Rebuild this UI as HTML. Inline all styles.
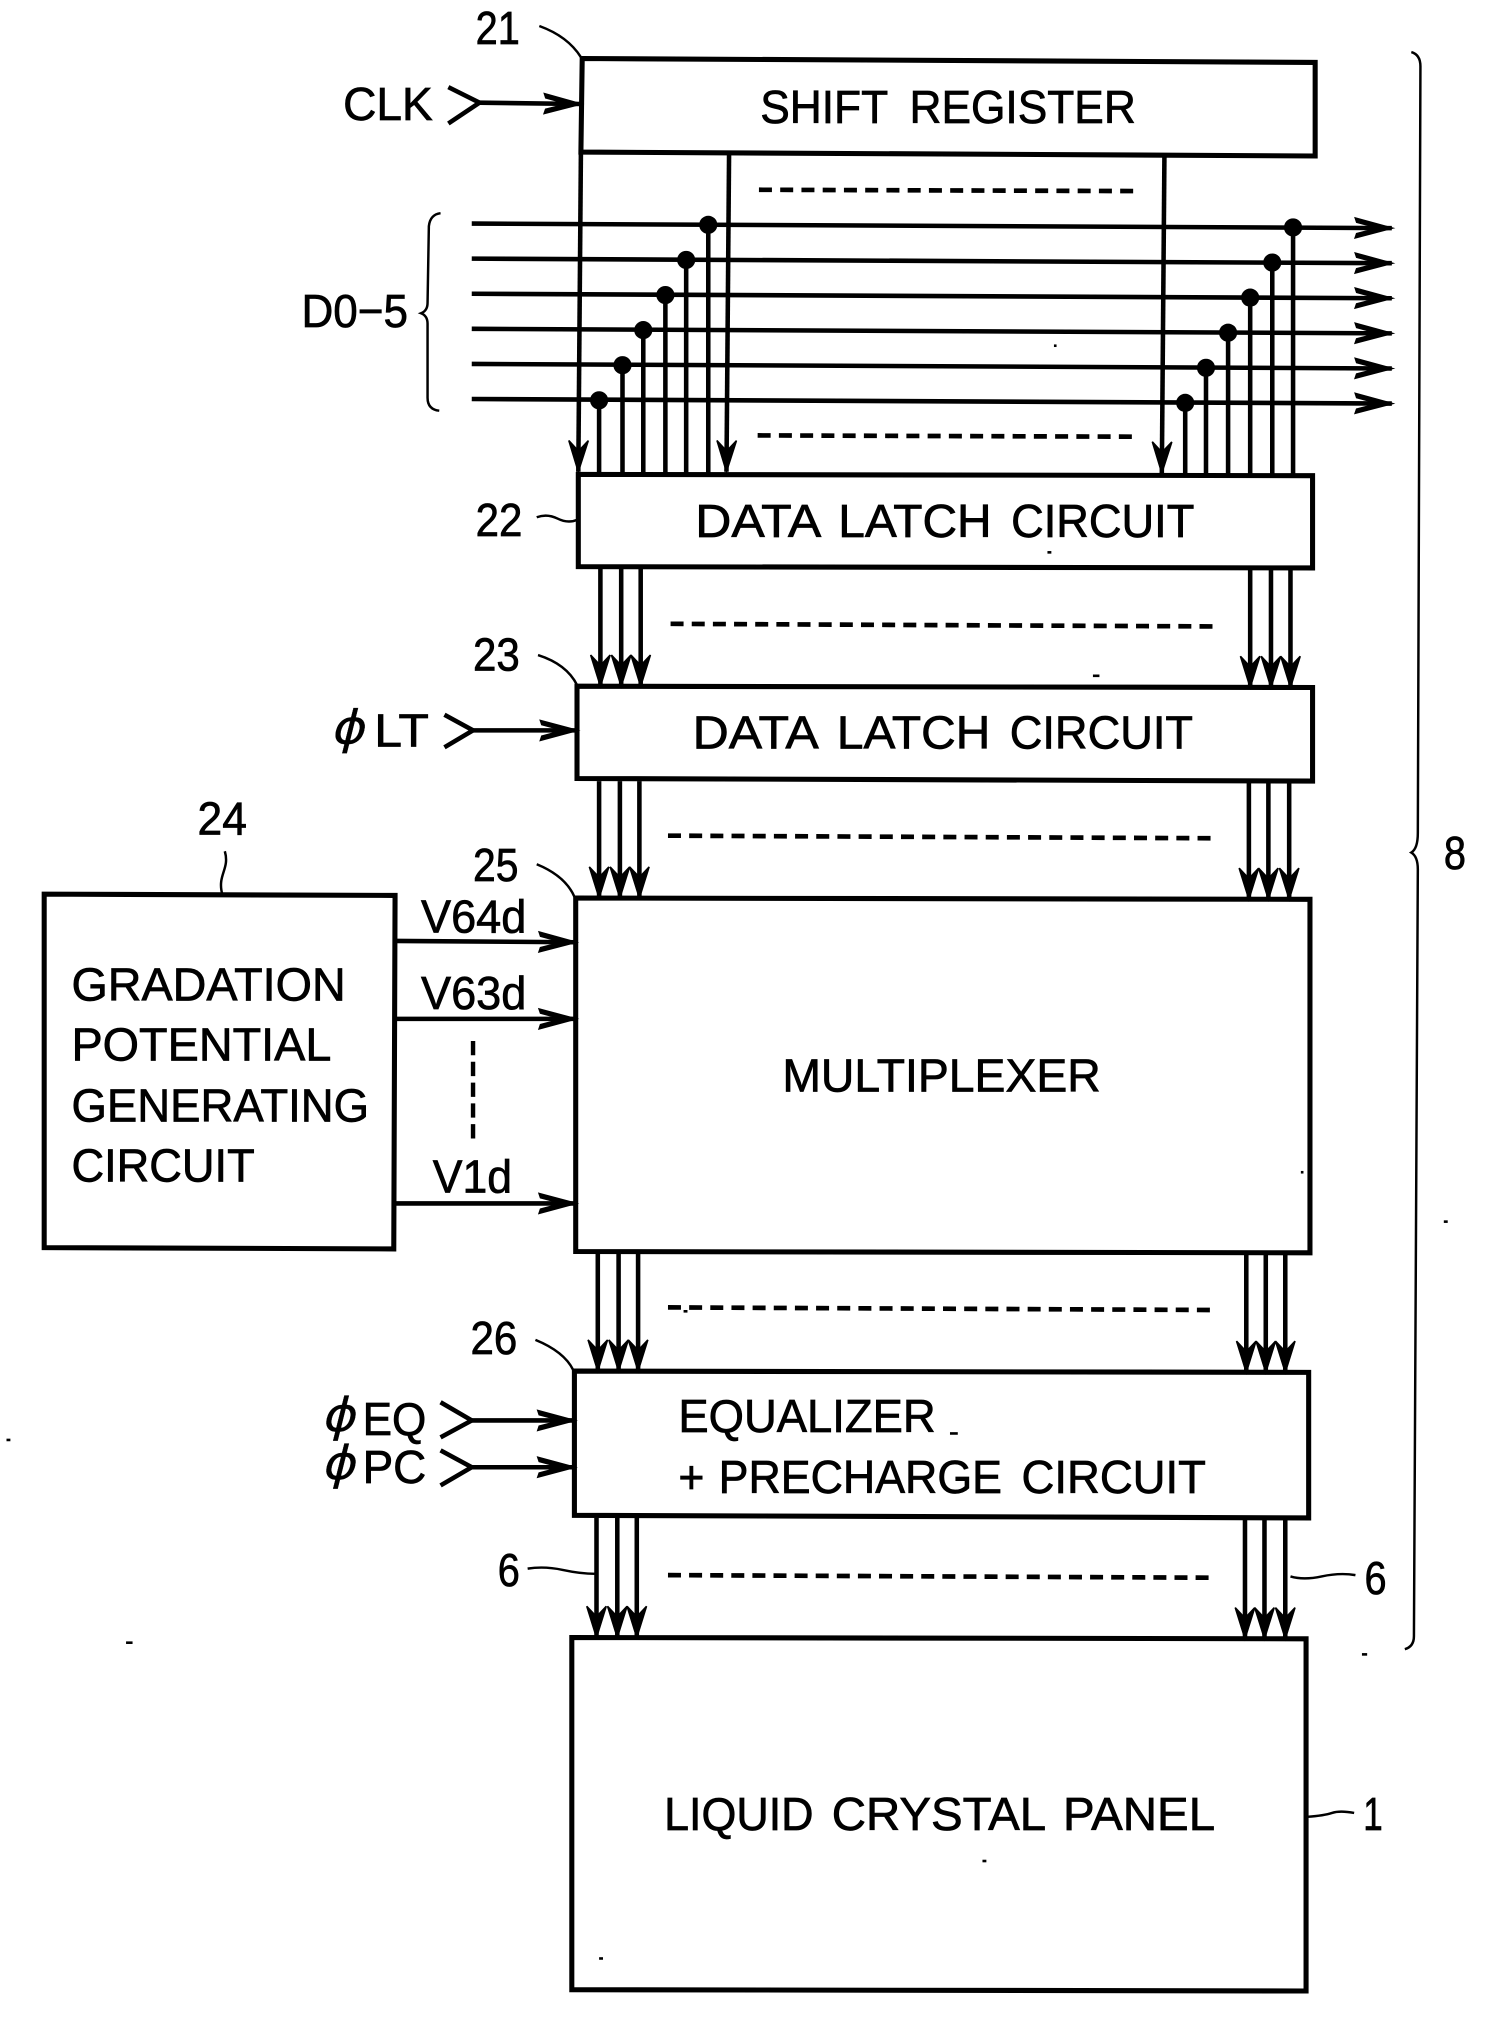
<!DOCTYPE html>
<html lang="en">
<head>
<meta charset="utf-8">
<title>Block diagram</title>
<style>
html,body{margin:0;padding:0;background:#fff}
svg{display:block;position:absolute;left:0;top:0}
text{font-family:"Liberation Sans",sans-serif;font-size:36px;fill:#000;stroke:#000;stroke-width:.55}
.w{word-spacing:8px}
.p{font-family:"DejaVu Sans",sans-serif;font-size:36px;stroke-width:.2}
.b{fill:none;stroke:#000;stroke-width:3.9}
.l{fill:none;stroke:#000;stroke-width:3.5}
.t{fill:none;stroke:#000;stroke-width:1.9}
.d{fill:none;stroke:#000;stroke-width:3.6;stroke-dasharray:10 6.1}
.dv{fill:none;stroke:#000;stroke-width:3.4;stroke-dasharray:11 5}
</style>
</head>
<body>
<svg xmlns="http://www.w3.org/2000/svg" width="1501" height="2040" viewBox="0 0 1155 1569.7">
<defs>
<marker id="a" markerUnits="userSpaceOnUse" markerWidth="34" markerHeight="24" refX="30" refY="12" orient="auto" overflow="visible">
<path d="M30 12L2 4.5L3 7.5L20 12L3 16.5L2 19.5Z" fill="#000" stroke="#000" stroke-width="1.4"/>
</marker>
<marker id="v" markerUnits="userSpaceOnUse" markerWidth="34" markerHeight="24" refX="30" refY="12" orient="auto" overflow="visible">
<path d="M30 12L6 4.5L14 12L6 19.5Z" fill="#000" stroke="#000" stroke-width="1.2"/>
</marker>
</defs>

<g transform="translate(1 1)">
<!-- Boxes -->
<polygon class="b" points="447,44 1011,47 1011,119 446,116"/>
<polygon class="b" points="444,364 1009,365 1009,436 444,435"/>
<polygon class="b" points="443,527 1009,528 1009,600 443,598"/>
<polygon class="b" points="442,690 1007,691 1007,963 442,962"/>
<polygon class="b" points="441,1054 1006,1055 1006,1167 441,1165"/>
<polygon class="b" points="439,1259 1004,1260 1004,1531 439,1530"/>
<polygon class="b" points="33,687 303,688 302,960 33,959"/>

<!-- Clock verticals -->
<line class="l" x1="446" y1="116" x2="444" y2="362" marker-end="url(#v)"/>
<line class="l" x1="560" y1="118" x2="558" y2="362" marker-end="url(#v)"/>
<line class="l" x1="895" y1="120" x2="893" y2="363" marker-end="url(#v)"/>

<!-- Data lines -->
<line class="l" x1="362" y1="171" x2="1070" y2="174.5" marker-end="url(#a)"/>
<line class="l" x1="362" y1="198" x2="1070" y2="201.5" marker-end="url(#a)"/>
<line class="l" x1="362" y1="225" x2="1070" y2="228.5" marker-end="url(#a)"/>
<line class="l" x1="362" y1="252" x2="1070" y2="255.5" marker-end="url(#a)"/>
<line class="l" x1="362" y1="279" x2="1070" y2="282.5" marker-end="url(#a)"/>
<line class="l" x1="362" y1="306" x2="1070" y2="309.5" marker-end="url(#a)"/>

<!-- Taps -->
<path class="l" d="M460 307V364M478 280V364M494 253V364M511 226V364M527 199V364M544 172V364"/>
<path class="l" d="M911 309V365M927 282V365M944 255V365M961 228V365M978 201V365M994 174V365"/>
<g fill="#000">
<circle cx="460" cy="307" r="7"/><circle cx="478" cy="280" r="7"/><circle cx="494" cy="253" r="7"/><circle cx="511" cy="226" r="7"/><circle cx="527" cy="199" r="7"/><circle cx="544" cy="172" r="7"/>
<circle cx="911" cy="309" r="7"/><circle cx="927" cy="282" r="7"/><circle cx="944" cy="255" r="7"/><circle cx="961" cy="228" r="7"/><circle cx="978" cy="201" r="7"/><circle cx="994" cy="174" r="7"/>
</g>

<!-- Bus arrows -->
<line class="l" x1="461" y1="436" x2="461" y2="527" marker-end="url(#v)"/>
<line class="l" x1="477" y1="436" x2="477" y2="527" marker-end="url(#v)"/>
<line class="l" x1="492" y1="436" x2="492" y2="527" marker-end="url(#v)"/>
<line class="l" x1="961" y1="436" x2="961" y2="528" marker-end="url(#v)"/>
<line class="l" x1="977" y1="436" x2="977" y2="528" marker-end="url(#v)"/>
<line class="l" x1="992" y1="436" x2="992" y2="528" marker-end="url(#v)"/>

<line class="l" x1="460" y1="600" x2="460" y2="690" marker-end="url(#v)"/>
<line class="l" x1="476" y1="600" x2="476" y2="690" marker-end="url(#v)"/>
<line class="l" x1="491" y1="600" x2="491" y2="690" marker-end="url(#v)"/>
<line class="l" x1="960" y1="600" x2="960" y2="691" marker-end="url(#v)"/>
<line class="l" x1="975" y1="600" x2="975" y2="691" marker-end="url(#v)"/>
<line class="l" x1="991" y1="600" x2="991" y2="691" marker-end="url(#v)"/>

<line class="l" x1="459" y1="963" x2="459" y2="1054" marker-end="url(#v)"/>
<line class="l" x1="475" y1="963" x2="475" y2="1054" marker-end="url(#v)"/>
<line class="l" x1="490" y1="963" x2="490" y2="1054" marker-end="url(#v)"/>
<line class="l" x1="958" y1="963" x2="958" y2="1055" marker-end="url(#v)"/>
<line class="l" x1="973" y1="963" x2="973" y2="1055" marker-end="url(#v)"/>
<line class="l" x1="988" y1="963" x2="988" y2="1055" marker-end="url(#v)"/>

<line class="l" x1="458" y1="1167" x2="458" y2="1259" marker-end="url(#v)"/>
<line class="l" x1="474" y1="1167" x2="474" y2="1259" marker-end="url(#v)"/>
<line class="l" x1="489" y1="1167" x2="489" y2="1259" marker-end="url(#v)"/>
<line class="l" x1="957" y1="1167" x2="957" y2="1260" marker-end="url(#v)"/>
<line class="l" x1="972" y1="1167" x2="972" y2="1260" marker-end="url(#v)"/>
<line class="l" x1="988" y1="1167" x2="988" y2="1260" marker-end="url(#v)"/>

<!-- Dashed lines -->
<line class="d" x1="583" y1="145" x2="871" y2="146" style="stroke-dasharray:10 6.35"/>
<line class="d" x1="582" y1="334" x2="870" y2="335" style="stroke-dasharray:10 6.35"/>
<line class="d" x1="515" y1="479" x2="932" y2="481" style="stroke-dasharray:10 6.28"/>
<line class="d" x1="513" y1="642" x2="931" y2="644" style="stroke-dasharray:10 6.3"/>
<line class="d" x1="513" y1="1005" x2="930" y2="1007" style="stroke-dasharray:10 6.28"/>
<line class="d" x1="513" y1="1211" x2="929" y2="1213" style="stroke-dasharray:10 6.24"/>
<line class="dv" x1="363" y1="800" x2="363" y2="875"/>

<!-- Inputs -->
<path class="l" d="M344 66L368 78L344 94"/>
<line class="l" x1="368" y1="78" x2="446" y2="79" marker-end="url(#a)"/>
<path class="l" d="M341 549L363 561L341 574"/>
<line class="l" x1="363" y1="561" x2="443" y2="561" marker-end="url(#a)"/>
<path class="l" d="M338 1078L362 1092L338 1105"/>
<line class="l" x1="362" y1="1092" x2="441" y2="1092" marker-end="url(#a)"/>
<path class="l" d="M338 1115L362 1128L338 1142"/>
<line class="l" x1="362" y1="1128" x2="441" y2="1128" marker-end="url(#a)"/>

<line class="l" x1="303" y1="723" x2="442" y2="724" marker-end="url(#a)"/>
<line class="l" x1="303" y1="783" x2="442" y2="783" marker-end="url(#a)"/>
<line class="l" x1="303" y1="925" x2="442" y2="925" marker-end="url(#a)"/>

<!-- Leaders -->
<path class="t" d="M414 19Q436 27 446 43"/>
<path class="t" d="M412 397Q420 394 428 398T443 399"/>
<path class="t" d="M413 503Q435 510 443 526"/>
<path class="t" d="M172 654C176 668 166 672 170 687"/>
<path class="t" d="M412 664Q434 673 441 689"/>
<path class="t" d="M411 1030Q433 1039 440 1053"/>
<path class="t" d="M405 1206Q418 1204 432 1207T457 1210"/>
<path class="t" d="M1042 1211Q1030 1209 1016 1212T992 1212"/>
<path class="t" d="M1005 1397Q1018 1396 1024 1394T1041 1394"/>

<!-- Braces -->
<path class="t" d="M1085 39Q1092 41 1092 50L1090 640Q1090 652 1085 655Q1090 658 1090 668L1087 1258Q1087 1266 1080 1268"/>
<path class="t" d="M338 163Q330 164 329 173L328 232Q328 238 323 240Q328 242 328 248L328 305Q328 314 337 315"/>

<!-- Specks -->
<g fill="#000">
<rect x="805" y="423" width="3" height="2"/><rect x="810" y="264" width="2" height="2"/>
<rect x="1047" y="1271" width="4" height="2"/><rect x="96" y="1262" width="5" height="2"/>
<rect x="4" y="1106" width="3" height="2"/><rect x="730" y="1101" width="6" height="2"/>
<rect x="840" y="518" width="5" height="2"/><rect x="1110" y="938" width="3" height="2"/>
<rect x="525" y="1007" width="3" height="2"/><rect x="755" y="1430" width="3" height="2"/>
<rect x="460" y="1505" width="3" height="2"/><rect x="1000" y="900" width="2" height="2"/>
</g>
</g>

<!-- Labels -->
<text class="w" x="585" y="94.5" textLength="289" lengthAdjust="spacingAndGlyphs">SHIFT REGISTER</text>
<text x="535" y="413" textLength="97" lengthAdjust="spacingAndGlyphs">DATA</text>
<text x="645" y="413" textLength="118" lengthAdjust="spacingAndGlyphs">LATCH</text>
<text x="778" y="413" textLength="141" lengthAdjust="spacingAndGlyphs">CIRCUIT</text>
<text x="533" y="576" textLength="97" lengthAdjust="spacingAndGlyphs">DATA</text>
<text x="644" y="576" textLength="118" lengthAdjust="spacingAndGlyphs">LATCH</text>
<text x="777" y="576" textLength="141" lengthAdjust="spacingAndGlyphs">CIRCUIT</text>
<text x="602" y="840" textLength="245" lengthAdjust="spacingAndGlyphs">MULTIPLEXER</text>
<text x="522" y="1102" textLength="198" lengthAdjust="spacingAndGlyphs">EQUALIZER</text>
<text x="522" y="1149" textLength="20" lengthAdjust="spacingAndGlyphs">+</text>
<text x="553" y="1149" textLength="218" lengthAdjust="spacingAndGlyphs">PRECHARGE</text>
<text x="786" y="1149" textLength="142" lengthAdjust="spacingAndGlyphs">CIRCUIT</text>
<text x="511" y="1408" textLength="115" lengthAdjust="spacingAndGlyphs">LIQUID</text>
<text x="640" y="1408" textLength="165" lengthAdjust="spacingAndGlyphs">CRYSTAL</text>
<text x="818" y="1408" textLength="117" lengthAdjust="spacingAndGlyphs">PANEL</text>
<text x="55" y="770" textLength="211" lengthAdjust="spacingAndGlyphs">GRADATION</text>
<text x="55" y="816" textLength="200" lengthAdjust="spacingAndGlyphs">POTENTIAL</text>
<text x="55" y="863" textLength="229" lengthAdjust="spacingAndGlyphs">GENERATING</text>
<text x="55" y="909" textLength="141" lengthAdjust="spacingAndGlyphs">CIRCUIT</text>

<text x="366" y="34" textLength="34" lengthAdjust="spacingAndGlyphs">21</text>
<text x="264" y="92.5" textLength="69" lengthAdjust="spacingAndGlyphs">CLK</text>
<text x="232" y="251.5" textLength="82" lengthAdjust="spacingAndGlyphs">D0−5</text>
<text x="366" y="412.5" textLength="36" lengthAdjust="spacingAndGlyphs">22</text>
<text x="364" y="516" textLength="36" lengthAdjust="spacingAndGlyphs">23</text>
<text x="152" y="642" textLength="38" lengthAdjust="spacingAndGlyphs">24</text>
<text x="364" y="678" textLength="35" lengthAdjust="spacingAndGlyphs">25</text>
<text x="362" y="1042" textLength="36" lengthAdjust="spacingAndGlyphs">26</text>
<text x="324" y="717.5" textLength="81" lengthAdjust="spacingAndGlyphs">V64d</text>
<text x="324" y="776.5" textLength="81" lengthAdjust="spacingAndGlyphs">V63d</text>
<text x="333" y="917.5" textLength="61" lengthAdjust="spacingAndGlyphs">V1d</text>
<text x="288" y="574.5" textLength="42" lengthAdjust="spacingAndGlyphs">LT</text>
<text x="279" y="1104" textLength="49" lengthAdjust="spacingAndGlyphs">EQ</text>
<text x="279" y="1141" textLength="49" lengthAdjust="spacingAndGlyphs">PC</text>
<text class="p" transform="translate(254 572) skewX(-14)" textLength="26" lengthAdjust="spacingAndGlyphs">ϕ</text>
<text class="p" transform="translate(247 1101) skewX(-14)" textLength="26" lengthAdjust="spacingAndGlyphs">ϕ</text>
<text class="p" transform="translate(247 1138) skewX(-14)" textLength="26" lengthAdjust="spacingAndGlyphs">ϕ</text>
<text x="383" y="1220.5" textLength="17" lengthAdjust="spacingAndGlyphs">6</text>
<text x="1050" y="1226.5" textLength="17" lengthAdjust="spacingAndGlyphs">6</text>
<text x="1049" y="1408" textLength="15" lengthAdjust="spacingAndGlyphs">1</text>
<text x="1111" y="668.5" textLength="17" lengthAdjust="spacingAndGlyphs">8</text>
</svg>
</body>
</html>
